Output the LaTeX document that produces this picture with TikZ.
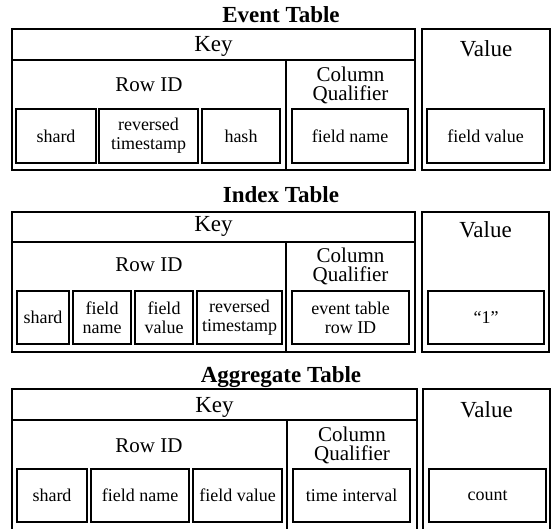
\documentclass[tikz,border=0pt]{standalone}
\usepackage{fontspec}
\setmainfont{Liberation Serif}

\begin{document}
\begin{tikzpicture}[x=1pt, y=-1pt,
  heading/.style={font=\fontsize{23}{23}\selectfont\bfseries, anchor=base, inner sep=0pt},
  bigtext/.style={font=\fontsize{23}{23}\selectfont, anchor=base, inner sep=0pt},
  midtext/.style={font=\fontsize{21}{19}\selectfont, align=center, inner sep=0pt},
  cell/.style={draw, line width=1.1pt, font=\fontsize{18}{19}\selectfont, align=center, inner sep=0pt},
  frame/.style={line width=1.6pt},
  divider/.style={line width=1.4pt}]
\clip (0,0) rectangle (551,529);
% Event table
\node[heading] (evtitle) at (281,23) {Event Table};
\draw[frame] (12,29) rectangle (415,170);
\draw[frame] (422,29) rectangle (550,170);
\draw[divider] (12,60) -- (415,60);
\draw[divider] (286,60) -- (286,170);
\node[bigtext] (evkey) at (213.5,52) {Key};
\node[bigtext] (evvalue) at (486,57) {Value};
\node[midtext, anchor=base] (evrow) at (149,92) {Row ID};
\node[midtext] (evcol) at (350.5,85.5) {Column\\Qualifier};
\node[cell, minimum width=80, minimum height=54] (evshard) at (56,136) {shard};
\node[cell, minimum width=99, minimum height=54] (evstamp) at (148.5,136) {reversed\\timestamp};
\node[cell, minimum width=78, minimum height=54] (evhash) at (241,136) {hash};
\node[cell, minimum width=116, minimum height=54] (evname) at (350,136) {field name};
\node[cell, minimum width=117, minimum height=54] (evfield) at (485.5,136) {field value};
% Index table
\node[heading] (ixtitle) at (281,203) {Index Table};
\draw[frame] (12,212) rectangle (415,352);
\draw[frame] (422,212) rectangle (549,352);
\draw[divider] (12,242) -- (415,242);
\draw[divider] (286,242) -- (286,352);
\node[bigtext] (ixkey) at (213.5,232) {Key};
\node[bigtext] (ixvalue) at (485.5,238) {Value};
\node[midtext, anchor=base] (ixrow) at (149,272) {Row ID};
\node[midtext] (ixcol) at (350.5,266.5) {Column\\Qualifier};
\node[cell, minimum width=52, minimum height=53] (ixshard) at (43,317.5) {shard};
\node[cell, minimum width=58, minimum height=53] (ixname) at (102,317.5) {field\\name};
\node[cell, minimum width=58, minimum height=53] (ixfield) at (164,317.5) {field\\value};
\node[cell, minimum width=85, minimum height=53] (ixstamp) at (239.5,317.5) {reversed\\timestamp};
\node[cell, minimum width=117, minimum height=53] (ixevent) at (350.5,317.5) {event table\\row ID};
\node[cell, minimum width=116, minimum height=53] (ixone) at (486,317.5) {``1''};
% Aggregate table
\node[heading] (agtitle) at (281,382) {Aggregate Table};
\draw[frame] (12,389) rectangle (417,540);
\draw[frame] (423,389) rectangle (550,540);
\draw[divider] (12,420) -- (417,420);
\draw[divider] (287,420) -- (287,540);
\node[bigtext] (agkey) at (214.5,412) {Key};
\node[bigtext] (agvalue) at (486.5,417) {Value};
\node[midtext, anchor=base] (agrow) at (149,452) {Row ID};
\node[midtext] (agcol) at (352,445.5) {Column\\Qualifier};
\node[cell, minimum width=70, minimum height=53] (agshard) at (52,495.5) {shard};
\node[cell, minimum width=98, minimum height=53] (agname) at (140,495.5) {field name};
\node[cell, minimum width=89, minimum height=53] (agfield) at (237.5,495.5) {field value};
\node[cell, minimum width=117, minimum height=53] (aginterval) at (351.5,495.5) {time interval};
\node[cell, minimum width=117, minimum height=53] (agcount) at (487.5,495.5) {count};
\end{tikzpicture}
\end{document}
